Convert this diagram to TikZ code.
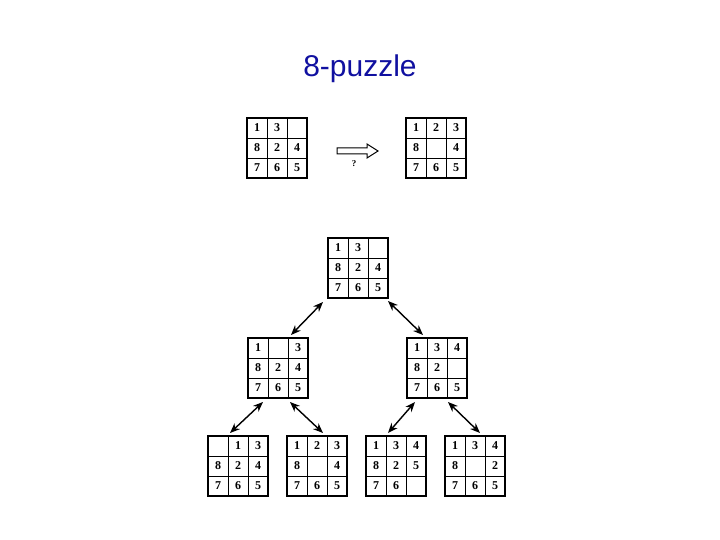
\documentclass[tikz,border=0pt]{standalone}
\usepackage{fontspec}
\setmainfont{Liberation Serif}
\newfontfamily\titlefont{Liberation Sans}
\usetikzlibrary{arrows.meta}
\definecolor{titleblue}{RGB}{16,16,160}
\tikzset{
  pzbox/.style={draw=black, line width=1.7pt, minimum size=60pt, inner sep=0pt, outer sep=0pt},
  pzinner/.style={draw=black, line width=0.9pt},
  digit/.style={font=\fontsize{12}{12}\selectfont\bfseries, inner sep=0pt},
  dblarrow/.style={line width=1.4pt, {Stealth[length=10pt,width=8pt]}-{Stealth[length=10pt,width=8pt]}},
}
\newcommand\pz[4]{%
  \node[pzbox] (#1) at (#2+30,#3+30) {};
  \draw[pzinner] ([xshift=20pt]#1.north west) -- ([xshift=20pt]#1.south west);
  \draw[pzinner] ([xshift=40pt]#1.north west) -- ([xshift=40pt]#1.south west);
  \draw[pzinner] ([yshift=-20pt]#1.north west) -- ([yshift=-20pt]#1.north east);
  \draw[pzinner] ([yshift=-40pt]#1.north west) -- ([yshift=-40pt]#1.north east);
  \foreach \v [count=\i from 0] in {#4} {
    \pgfmathtruncatemacro\rr{int(\i/3)}
    \pgfmathtruncatemacro\cc{mod(\i,3)}
    \node[digit] at ([xshift={(\cc+0.5)*20pt}, yshift={-(\rr+0.5)*20pt}]#1.north west) {\v};
  }%
}
\begin{document}
\begin{tikzpicture}[x=1pt,y=-1pt]
\useasboundingbox (0,0) rectangle (720,540);
\node[font=\titlefont\fontsize{30}{30}\selectfont, text=titleblue] (title) at (360,69) {8-puzzle};

\pz{start}{247}{118}{1,3,{},8,2,4,7,6,5}
\pz{goal}{406}{118}{1,2,3,8,{},4,7,6,5}

\draw[line width=1pt, fill=white] (337,148) -- (367,148) -- (367,144) -- (378,151) -- (367,158) -- (367,154) -- (337,154) -- cycle;
\node[digit, font=\fontsize{9}{9}\selectfont\bfseries] (q) at (354,164) {?};

\pz{root}{328}{238}{1,3,{},8,2,4,7,6,5}
\pz{left}{248}{338}{1,{},3,8,2,4,7,6,5}
\pz{right}{407}{338}{1,3,4,8,2,{},7,6,5}
\pz{bA}{208}{436}{{},1,3,8,2,4,7,6,5}
\pz{bB}{287}{436}{1,2,3,8,{},4,7,6,5}
\pz{bC}{366}{436}{1,3,4,8,2,5,7,6,{}}
\pz{bD}{445}{436}{1,3,4,8,{},2,7,6,5}

\draw[dblarrow] ([shift={(-5,4)}]root.south west) -- ([shift={(-17,-3)}]left.north east);
\draw[dblarrow] ([shift={(0,3)}]root.south east) -- ([shift={(16,-3)}]right.north west);
\draw[dblarrow] ([shift={(15,4)}]left.south west) -- ([shift={(22,-3)}]bA.north west);
\draw[dblarrow] ([shift={(-18,4)}]left.south east) -- ([shift={(36,-3)}]bB.north west);
\draw[dblarrow] ([shift={(8,4)}]right.south west) -- ([shift={(22,-3)}]bC.north west);
\draw[dblarrow] ([shift={(-19,4)}]right.south east) -- ([shift={(35,-3)}]bD.north west);
\end{tikzpicture}
\end{document}
